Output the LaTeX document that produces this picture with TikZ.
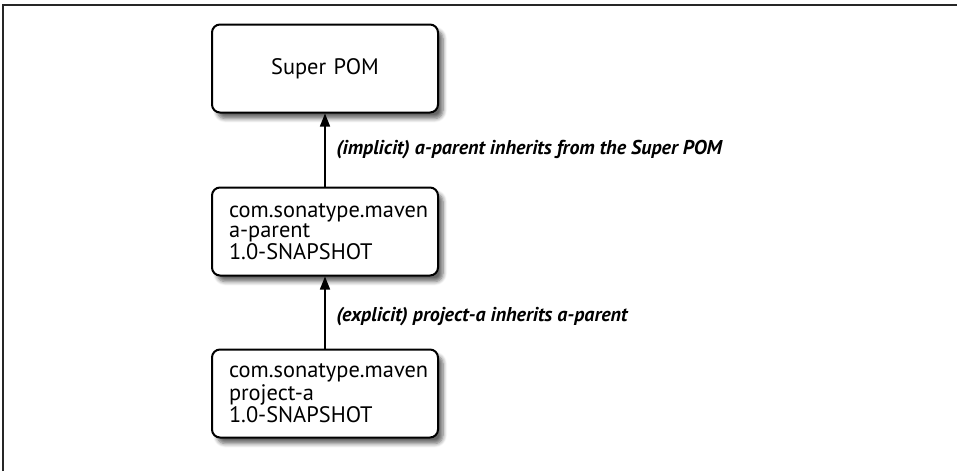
\documentclass[tikz,border=0pt]{standalone}
\usepackage{fontspec}
\setmainfont{PT Sans}
\usetikzlibrary{positioning,shadows.blur,arrows.meta}
\tikzset{
   pomBox/.style = {
         rectangle,
         draw,
         line width = 1pt,
         rounded corners = 4pt,
         fill = white,
         align = left,
         text width = 96pt,
         inner xsep = 8.5pt,
         font = \fontsize{11.2}{10}\selectfont,
         minimum width = 113pt,
         minimum height = 44pt,
         blur shadow = {shadow xshift=2.5pt, shadow yshift=-3pt,
                        shadow blur steps=6, shadow opacity=60},
      },
   pomTop/.style = {
         pomBox,
         align = center,
      },
   pomLine/.style = {
         draw,
         line width = 0.8pt,
         -{Triangle[length=6.5pt,width=5pt]},
      },
   pomLabel/.style = {
         right,
         xshift = 2pt,
         font = \fontsize{10}{12}\selectfont\bfseries\itshape,
      },
}

\begin{document}
\begin{tikzpicture}

\useasboundingbox (0,0) rectangle (478.5pt,-235.5pt);

% frame
\draw [line width = 1pt, black!85] (1.5pt,-235.5pt) -- (1.5pt,-2.5pt) -- (478.5pt,-2.5pt);

% Place nodes
\node [pomTop] at (162.5pt,-34.25pt) (superpom){Super POM};
\node [pomBox, below = 36.5pt of superpom]
	(aparent){com.sonatype.maven\\a-parent\\1.0-SNAPSHOT};
\node [pomBox, below = 36pt of aparent]
	(projecta){com.sonatype.maven\\project-a\\1.0-SNAPSHOT};

% Draw edges
\path [pomLine] (aparent) -- node [pomLabel] {(implicit) a-parent inherits from the Super POM} (superpom);
\path [pomLine] (projecta) -- node [pomLabel, yshift=-2pt] {(explicit) project-a inherits a-parent} (aparent);

\end{tikzpicture}
\end{document}
